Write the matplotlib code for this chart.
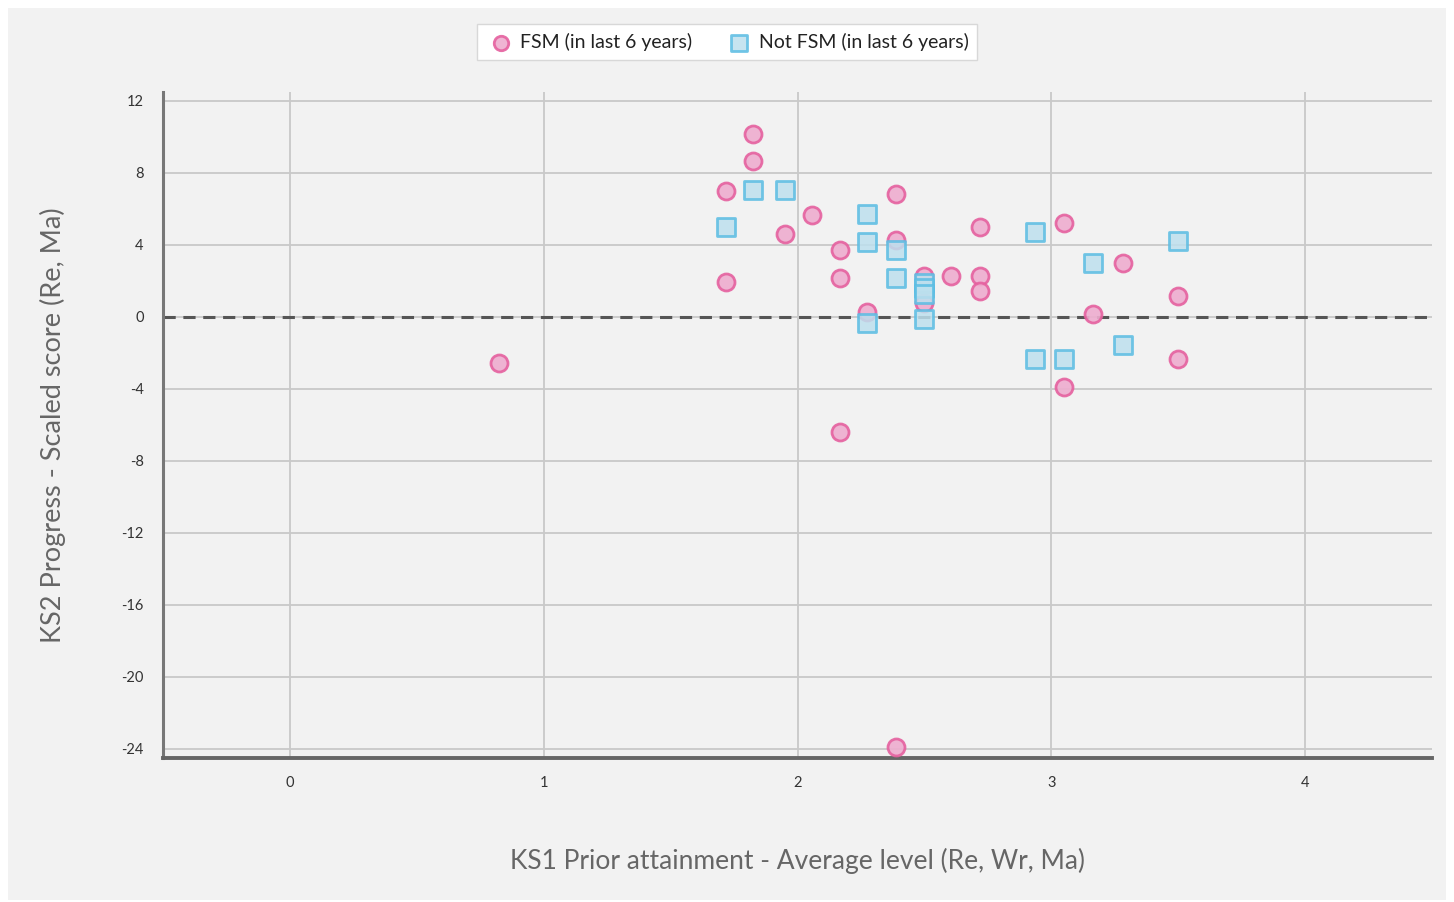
import matplotlib
matplotlib.use("Agg")
import matplotlib.pyplot as plt
from matplotlib.patches import Rectangle

plt.rcParams['font.family'] = ['Lato', 'DejaVu Sans']
plt.rcParams['axes.unicode_minus'] = False

# FSM (in last 6 years)
fsm_x = [0.825, 1.72, 1.72, 1.824, 1.824, 1.95, 2.057, 2.167, 2.167, 2.167, 2.274,
         2.388, 2.388, 2.388, 2.499, 2.499, 2.606, 2.72, 2.72, 2.72, 3.052, 3.052,
         3.166, 3.281, 3.498, 3.498]
fsm_y = [-2.56, 7.02, 1.95, 10.14, 8.64, 4.62, 5.68, 3.73, 2.17, -6.41, 0.28,
         6.85, 4.29, -23.9, 2.28, 0.78, 2.28, 5.01, 2.28, 1.45, 5.2, -3.87,
         0.17, 3.0, 1.17, -2.34]

# Not FSM (in last 6 years)
nfsm_x = [1.72, 1.824, 1.95, 2.274, 2.274, 2.274, 2.388, 2.388, 2.499, 2.499, 2.499,
          2.499, 2.937, 2.937, 3.052, 3.166, 3.281, 3.498]
nfsm_y = [4.98, 7.08, 7.08, 5.7, 4.17, -0.35, 3.73, 2.17, 1.9, 1.6, 1.3,
          -0.1, 4.7, -2.34, -2.34, 3.0, -1.56, 4.2]

x_ticks = [0, 1, 2, 3, 4]
y_ticks = [12, 8, 4, 0, -4, -8, -12, -16, -20, -24]

fig = plt.figure(figsize=(14.54, 9.02), dpi=100, facecolor='white')
fig.patches.append(Rectangle((8/1454, 2/902), (1446-8)/1454, (902-2-8)/902,
                             transform=fig.transFigure, facecolor='#f2f2f2',
                             edgecolor='none', zorder=-10))

ax = fig.add_axes([163/1454, 1-758/902, (1432-163)/1454, (758-92)/902])
ax.set_facecolor('#f2f2f2')
ax.set_xlim(-0.5, 4.5)
ax.set_ylim(-24.5, 12.5)
ax.set_xticks(x_ticks)
ax.set_yticks(y_ticks)
ax.grid(True, color='#c9c9c9', linewidth=1.3)
ax.set_axisbelow(True)
for s in ['top', 'right']:
    ax.spines[s].set_visible(False)
ax.spines['left'].set_color('#777777')
ax.spines['left'].set_linewidth(2.2)
ax.spines['bottom'].set_color('#666666')
ax.spines['bottom'].set_linewidth(2.8)
ax.tick_params(length=0, labelsize=10.5, labelcolor='#333333')
ax.tick_params(axis='y', pad=14)
ax.tick_params(axis='x', pad=13)

ax.axhline(0, color='#555555', linewidth=2.2, linestyle=(0, (4, 2.5)), zorder=2)

ax.scatter(fsm_x, fsm_y, s=150, marker='o', facecolor='#eeadcf', edgecolor='#e5619f',
           linewidths=2.0, alpha=0.9, zorder=3, label='FSM (in last 6 years)')
ax.scatter(nfsm_x, nfsm_y, s=170, marker='s', facecolor='#bde0ee', edgecolor='#5bbde3',
           linewidths=2.0, alpha=0.85, zorder=3, label='Not FSM (in last 6 years)')

ax.set_xlabel('KS1 Prior attainment - Average level (Re, Wr, Ma)', fontsize=19,
              color='#666666', labelpad=42)
ax.set_ylabel('KS2 Progress - Scaled score (Re, Ma)', fontsize=19.5,
              color='#666666', labelpad=40)

leg = fig.legend(loc='center', bbox_to_anchor=(727/1454, 1-42/902), ncol=2,
                 fontsize=14, frameon=True, fancybox=False, edgecolor='#d8d8d8',
                 facecolor='white', framealpha=1, markerscale=0.85,
                 handletextpad=0.2, handlelength=1.6, columnspacing=1.6, borderpad=0.45)
for t in leg.get_texts():
    t.set_color('#222222')

fig.savefig('out.png', dpi=100, facecolor=fig.get_facecolor())
